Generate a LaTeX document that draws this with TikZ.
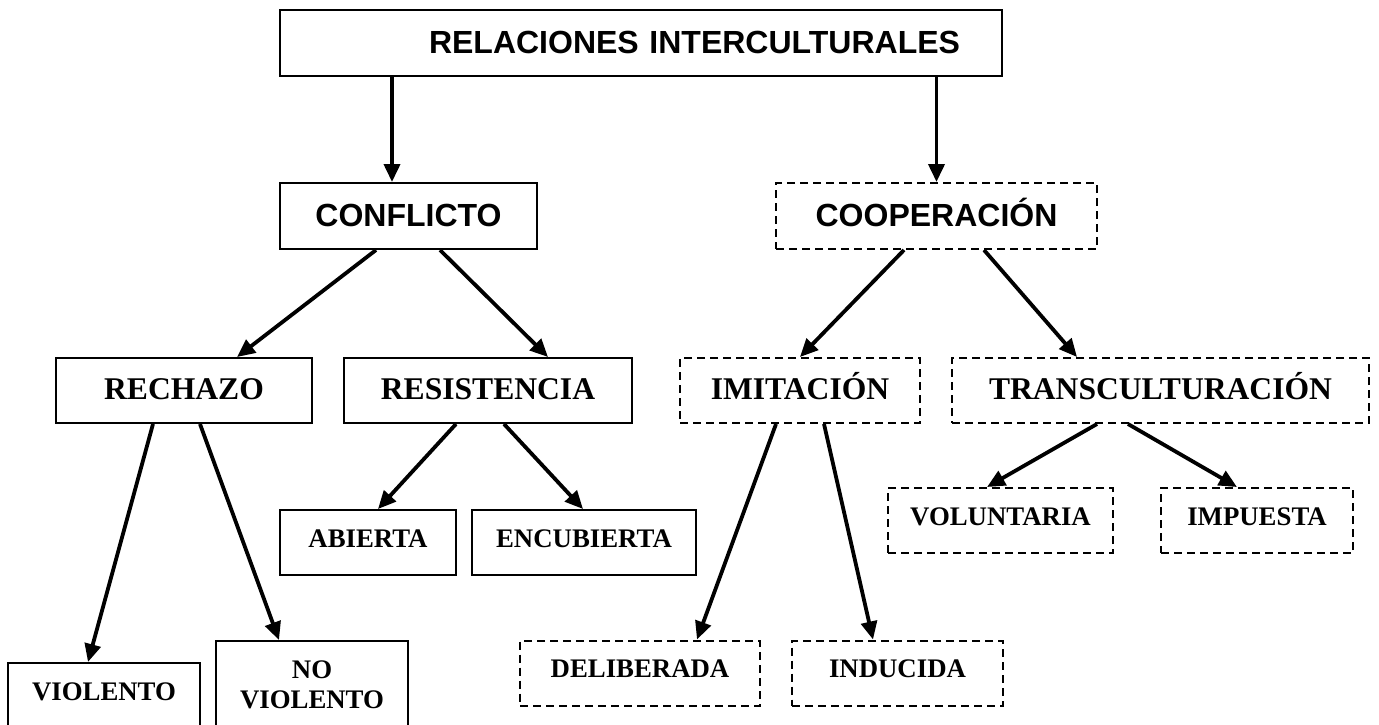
\documentclass[tikz,border=0pt]{standalone}
\usepackage{fontspec}
\setmainfont{Liberation Serif}
\setsansfont{Liberation Sans}
\usetikzlibrary{arrows.meta}
\tikzset{basic/.style={draw,fill=none,line width=2pt,
                       text badly centered,inner xsep=4pt}}
\tikzset{dashbox/.style={dash pattern=on 8pt off 5pt}}
\tikzset{headbox/.style={basic,font=\sffamily\bfseries\fontsize{32}{37}\selectfont,
                         inner ysep=12pt,text height=31pt,text depth=11pt}}
\tikzset{kindbox/.style={basic,font=\bfseries\fontsize{31.6}{36}\selectfont,
                         inner ysep=12pt,text height=29pt,text depth=12pt}}
\tikzset{leafbox/.style={basic,font=\bfseries\fontsize{26.8}{30}\selectfont,
                         inner ysep=12pt,text height=25pt,text depth=16pt}}
\tikzset{openbox/.style={leafbox,anchor=north,text depth=90pt}}
\tikzset{link/.style={line width=3.8pt,-{Triangle[length=18pt,width=16pt]}}}

\begin{document}
\begin{tikzpicture}[x=1pt,y=-1pt]
    \clip (0,0) rectangle (1379,724);
    % Title box
    \node[headbox,minimum width=722pt,text width=638pt,align=right,inner xsep=0pt]
        (rel) at (641,43) {RELACIONES INTERCULTURALES};
    % Two kinds of relation
    \node[headbox,minimum width=257pt] (conf) at (408.5,216) {CONFLICTO};
    \node[headbox,dashbox,minimum width=321pt] (coop) at (936.5,216) {COOPERACIÓN};
    % Third row
    \node[kindbox,minimum width=256pt] (rech) at (184,390.5) {RECHAZO};
    \node[kindbox,minimum width=288pt] (resi) at (488,390.5) {RESISTENCIA};
    \node[kindbox,dashbox,minimum width=240pt] (imit) at (800,390.5) {IMITACIÓN};
    \node[kindbox,dashbox,minimum width=417pt] (tran) at (1160.5,390.5) {TRANSCULTURACIÓN};
    % Leaves under resistencia and transculturacion
    \node[leafbox,minimum width=176pt] (abie) at (368,542.5) {ABIERTA};
    \node[leafbox,minimum width=224pt] (encu) at (584,542.5) {ENCUBIERTA};
    \node[leafbox,dashbox,minimum width=225pt] (volu) at (1000.5,520.5) {VOLUNTARIA};
    \node[leafbox,dashbox,minimum width=192pt] (impu) at (1257,520.5) {IMPUESTA};
    % Leaves under imitacion
    \node[leafbox,dashbox,minimum width=240pt] (deli) at (640,673) {DELIBERADA};
    \node[leafbox,dashbox,minimum width=211pt] (indu) at (897.5,673) {INDUCIDA};
    % Leaves under rechazo (cut by the bottom edge)
    \node[openbox,minimum width=192pt] (viol) at (104,662) {VIOLENTO};
    \node[openbox,minimum width=192pt] (novi) at (312,640)
        {\begin{tabular}[t]{@{}c@{}}NO\\VIOLENTO\end{tabular}};
    % Arrows: from node/shift to node/shift
    \foreach \a/\sa/\b/\sb in {rel/-249/conf/-16.5, rel/295.5/coop/0,
                               conf/-32.5/rech/53, conf/31.5/resi/60,
                               coop/-32.5/imit/0, coop/47.5/tran/-83.5,
                               rech/-31/viol/-16, rech/16/novi/-33,
                               resi/-32/abie/10, resi/16/encu/-1,
                               imit/-24/deli/57, imit/24/indu/-24.5,
                               tran/-63.5/volu/-13.5, tran/-32.5/impu/-20}{%
          \draw[link] ([xshift=\sa pt]\a.south) -- ([xshift=\sb pt]\b.north);
        }
\end{tikzpicture}
\end{document}
